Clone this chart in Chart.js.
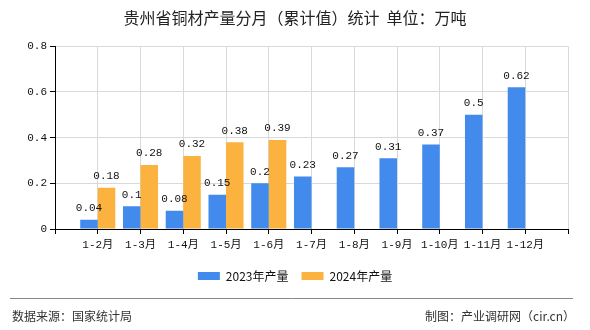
<!DOCTYPE html>
<html>
<head>
<meta charset="utf-8">
<script src="https://cdn.jsdelivr.net/npm/chart.js@4"></script>
<style>
    html, body { margin: 0; padding: 0; background: #fff; }
    #wrap { width: 590px; height: 330px; }
</style>
</head>
<body>
<div id="wrap"><canvas id="chart" width="590" height="330"></canvas></div>
<script>
const months = ["1-2月", "1-3月", "1-4月", "1-5月", "1-6月", "1-7月", "1-8月", "1-9月", "1-10月", "1-11月", "1-12月"];
const output2023 = [0.04, 0.1, 0.08, 0.15, 0.2, 0.23, 0.27, 0.31, 0.37, 0.5, 0.62];
const output2024 = [0.18, 0.28, 0.32, 0.38, 0.39, null, null, null, null, null, null];
const yTicks = [0, 0.2, 0.4, 0.6, 0.8];

/* empty slot at each end, like the original axis */
const labels = ["", ...months, ""];
const pad = arr => [null, ...arr, null];

const monoFont = "'Liberation Mono', 'Noto Sans CJK SC', monospace";
const cjkFont = "'Noto Sans CJK SC', sans-serif";

/* value above each bar */
const barValues = {
    id: "barValues",
    afterDatasetsDraw(chart) {
        const ctx = chart.ctx;
        ctx.save();
        ctx.font = "11px " + monoFont;
        ctx.fillStyle = "#111";
        ctx.textAlign = "center";
        ctx.textBaseline = "bottom";
        chart.data.datasets.forEach((ds, i) => {
            chart.getDatasetMeta(i).data.forEach((bar, j) => {
                const v = ds.data[j];
                if (v === null || v === undefined) return;
                ctx.fillText(String(v), bar.x, bar.y - 6);
            });
        });
        ctx.restore();
    }
};

/* source line at the bottom */
const footer = {
    id: "footer",
    afterDraw(chart) {
        const ctx = chart.ctx;
        ctx.save();
        ctx.strokeStyle = "#888";
        ctx.lineWidth = 1;
        ctx.beginPath();
        ctx.moveTo(10, 298.5);
        ctx.lineTo(573, 298.5);
        ctx.stroke();
        ctx.font = "12px " + cjkFont;
        ctx.fillStyle = "#333";
        ctx.textBaseline = "middle";
        ctx.textAlign = "left";
        ctx.fillText("数据来源：国家统计局", 12, 316);
        ctx.textAlign = "right";
        ctx.fillText("制图：产业调研网（cir.cn）", 575, 316);
        ctx.restore();
    }
};

new Chart(document.getElementById("chart"), {
    type: "bar",
    data: {
        labels: labels,
        datasets: [{
            label: "2023年产量",
            data: pad(output2023),
            backgroundColor: "#428bec"
        }, {
            label: "2024年产量",
            data: pad(output2024),
            backgroundColor: "#fbb23e"
        }]
    },
    options: {
        responsive: false,
        animation: false,
        layout: { padding: { left: 0, right: 0, top: 0, bottom: 38 } },
        datasets: {
            bar: { categoryPercentage: 0.82, barPercentage: 1.0 }
        },
        plugins: {
            title: {
                display: true,
                text: "贵州省铜材产量分月（累计值）统计  单位：万吨",
                color: "#222",
                font: { family: cjkFont, size: 16, weight: "normal" },
                padding: { top: 8, bottom: 19 }
            },
            legend: {
                position: "bottom",
                labels: {
                    boxWidth: 22,
                    boxHeight: 8,
                    padding: 13,
                    color: "#111",
                    font: { family: cjkFont, size: 12 }
                }
            },
            tooltip: { enabled: false }
        },
        scales: {
            x: {
                offset: false,
                grid: { offset: false, color: "#d9d9d9", tickColor: "#000", tickLength: 5 },
                border: { color: "#000", width: 1 },
                ticks: {
                    color: "#111",
                    font: { family: monoFont, size: 11 },
                    maxRotation: 0,
                    autoSkip: false,
                    padding: 4
                },
                afterFit: s => { s.height = 28; }
            },
            y: {
                min: yTicks[0],
                max: yTicks[yTicks.length - 1],
                afterBuildTicks: s => { s.ticks = yTicks.map(v => ({ value: v })); },
                grid: { color: "#d9d9d9", tickColor: "#000", tickLength: 5 },
                border: { color: "#000", width: 1 },
                ticks: {
                    color: "#111",
                    font: { family: monoFont, size: 11 },
                    padding: 3
                },
                afterFit: s => { s.width = 55; }
            },
            /* blank right margin so title and legend stay centred on the page */
            yRight: {
                position: "right",
                min: yTicks[0],
                max: yTicks[yTicks.length - 1],
                grid: { display: false },
                border: { display: false },
                ticks: { display: false },
                afterFit: s => { s.width = 22; }
            }
        }
    },
    plugins: [barValues, footer]
});
</script>
</body>
</html>
